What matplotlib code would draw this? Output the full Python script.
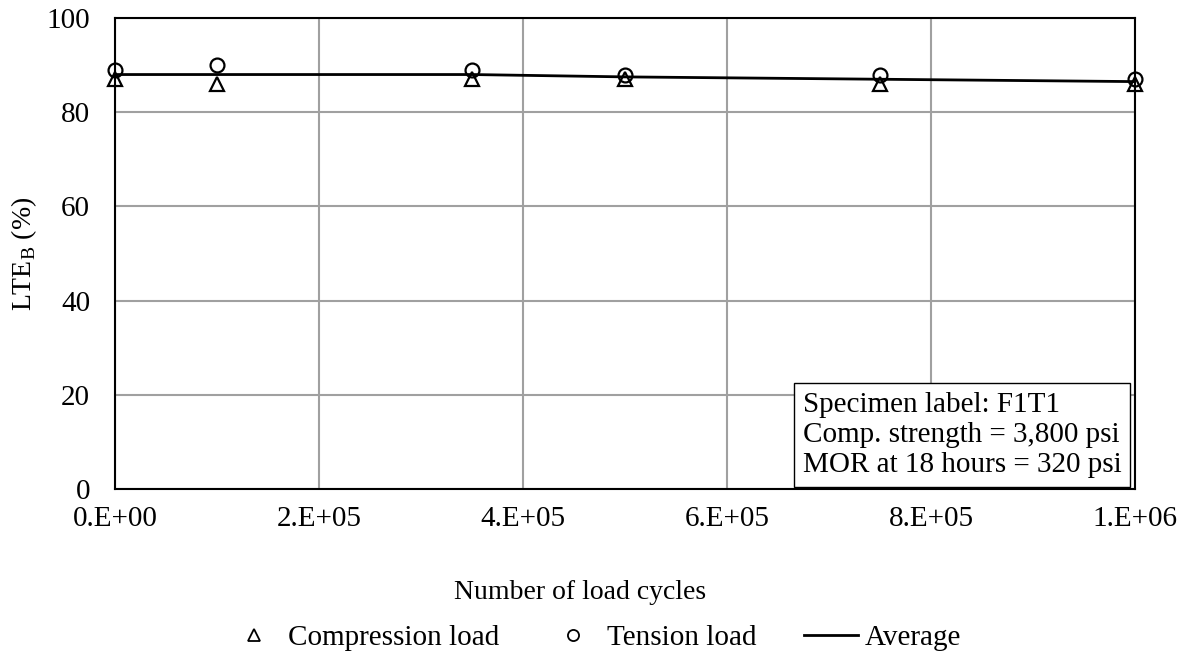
import numpy as np
import matplotlib.pyplot as plt
from matplotlib.lines import Line2D

plt.rcParams['font.family'] = ['Liberation Serif', 'DejaVu Serif']

# ciclos de carga y LTE medido en cada lectura
ciclos = [0, 1e5, 3.5e5, 5e5, 7.5e5, 1e6]
lte_compresion = [87, 86, 87, 87, 86, 86]
lte_tension = [89, 90, 89, 88, 88, 87]
lte_promedio = [88, 88, 88, 87.5, 87, 86.5]

x_ticks = [0, 2e5, 4e5, 6e5, 8e5, 1e6]
x_labels = ["0.E+00", "2.E+05", "4.E+05", "6.E+05", "8.E+05", "1.E+06"]

fig = plt.figure(figsize=(12.01, 6.55), dpi=100)
ax = fig.add_axes([0.0958, 0.2534, 0.8492, 0.7191])

ax.plot(ciclos, lte_promedio, color="black", lw=2, zorder=3)
ax.plot(ciclos, lte_compresion, linestyle="none", marker="^", ms=10,
        mfc="none", mec="black", mew=1.6, zorder=4, clip_on=False)
ax.plot(ciclos, lte_tension, linestyle="none", marker="o", ms=10,
        mfc="none", mec="black", mew=1.6, zorder=4, clip_on=False)

ax.set_xlim(0, 1e6)
ax.set_ylim(0, 100)
ax.set_xticks(x_ticks)
ax.set_xticklabels(x_labels)
ax.set_yticks(np.arange(0, 101, 20))
ax.tick_params(labelsize=21, length=0)
ax.tick_params(axis="y", pad=18)
ax.tick_params(axis="x", pad=12)
ax.grid(True, color="#a0a0a0", lw=1.5)
ax.set_axisbelow(True)
for s in ax.spines.values():
    s.set_linewidth(1.5)
    s.set_color("black")

ax.set_ylabel(r"LTE$_\mathregular{B}$ (%)", fontsize=20, labelpad=5)
ax.set_xlabel("Number of load cycles", fontsize=20, labelpad=35, x=0.456)

ax.text(0.6745, 0.023,
        "Specimen label: F1T1\nComp. strength = 3,800 psi\nMOR at 18 hours = 320 psi",
        transform=ax.transAxes, fontsize=21, va="bottom", ha="left",
        linespacing=1.2, zorder=6,
        bbox=dict(boxstyle="square,pad=0.3", fc="white", ec="black", lw=1))

leyenda = [
    Line2D([], [], linestyle="none", marker="^", ms=8, mfc="none", mec="black", mew=1.3),
    Line2D([], [], linestyle="none", marker="o", ms=8, mfc="none", mec="black", mew=1.3),
    Line2D([], [], color="black", lw=2),
]
fig.legend(leyenda, ["Compression load", "Tension load", "Average"],
           loc="center", bbox_to_anchor=(0.4946, 0.026), ncol=3, frameon=False,
           fontsize=21, handlelength=1.86, handletextpad=0.25, columnspacing=1.6,
           borderpad=0, borderaxespad=0)

fig.savefig("out.png", dpi=100)
